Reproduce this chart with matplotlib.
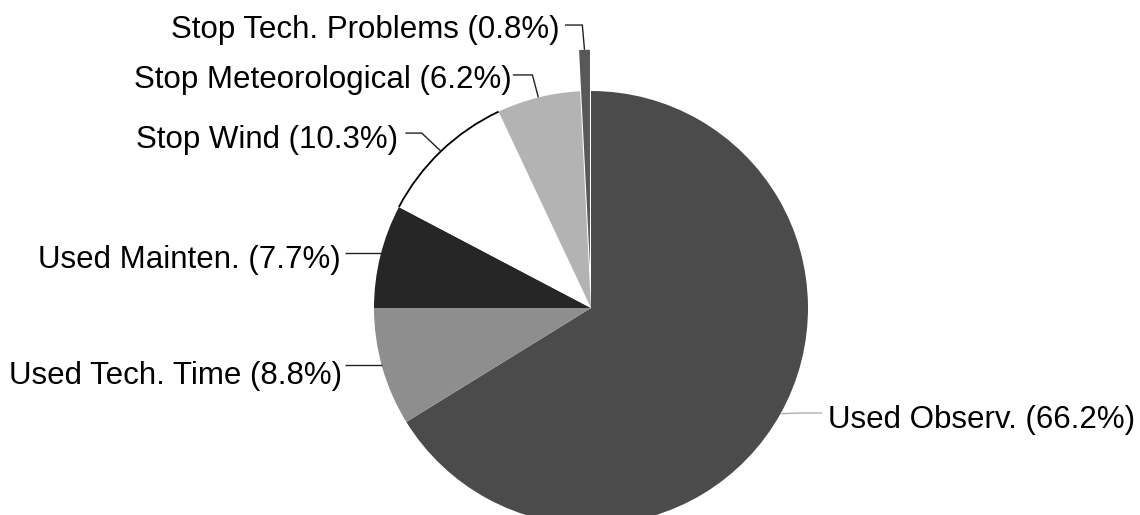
import numpy as np
import matplotlib
matplotlib.use("Agg")
import matplotlib.pyplot as plt

# ---- data ----
categories = ["Used Observ.", "Used Tech. Time", "Used Mainten.",
              "Stop Wind", "Stop Meteorological", "Stop Tech. Problems"]
shares = [66.2, 8.8, 7.7, 10.3, 6.2, 0.8]
colors = ["#4b4b4b", "#8e8e8e", "#262626", "#ffffff", "#b3b3b3", "#585858"]
explode = [0, 0, 0, 0, 0, 0.19]

# label layout (data units, pie radius = 1)
# elbow: bend of leader, end: leader end next to text, text: (x, baseline)
label_layout = {
    "Used Observ.":        dict(elbow=(0.96, -0.484), end=(1.065, -0.484), text=(1.092, -0.553), ha="left"),
    "Used Tech. Time":     dict(elbow=None, end=(-1.135, -0.263), text=(-1.147, -0.350), ha="right"),
    "Used Mainten.":       dict(elbow=None, end=(-1.135, 0.253), text=(-1.152, 0.184), ha="right"),
    "Stop Wind":           dict(elbow=(-0.78, 0.806), end=(-0.855, 0.806), text=(-0.889, 0.737), ha="right"),
    "Stop Meteorological": dict(elbow=(-0.27, 1.074), end=(-0.36, 1.074), text=(-0.366, 1.014), ha="right"),
    "Stop Tech. Problems": dict(elbow=(-0.04, 1.304), end=(-0.12, 1.304), text=(-0.143, 1.244), ha="right"),
}

W, H, DPI = 11.4, 5.15, 100
fig = plt.figure(figsize=(W, H), dpi=DPI)
ax = fig.add_axes([0, 0, 1, 1])
R_PX = 217.0
cx, cy = 591.0, 308.0

wedges, _ = ax.pie(shares, colors=colors, explode=explode, startangle=90,
                   counterclock=False, radius=1.0, center=(0, 0),
                   wedgeprops=dict(linewidth=0), frame=True)
ax.set_xlim(-cx / R_PX, (W * DPI - cx) / R_PX)
ax.set_ylim(-(H * DPI - cy) / R_PX, cy / R_PX)
ax.set_aspect("auto")
ax.axis("off")

# dark rim along the stop-wind arc
w = wedges[3]
ax.add_patch(matplotlib.patches.Arc((0, 0), 2, 2, theta1=w.theta1, theta2=w.theta2,
                                    color="black", lw=1.3))

font = dict(family=["Liberation Sans", "DejaVu Sans"], fontsize=22.5)
for wd, cat, val, ex in zip(wedges, categories, shares, explode):
    ang = np.deg2rad((wd.theta1 + wd.theta2) / 2)
    r = 1.0 + ex
    ax_, ay_ = r * np.cos(ang), r * np.sin(ang)
    lay = label_layout[cat]
    if lay["elbow"] is None:
        ly = lay["end"][1]
        xs = [-np.sqrt(1 - ly ** 2), lay["end"][0]]
        ys = [ly, ly]
    else:
        xs = [ax_, lay["elbow"][0], lay["end"][0]]
        ys = [ay_, lay["elbow"][1], lay["end"][1]]
    lc = "#b0b0b0" if cat == "Used Observ." else "#222222"
    ax.plot(xs, ys, color=lc, lw=1.0, solid_capstyle="butt")
    ax.text(lay["text"][0], lay["text"][1], f"{cat} ({val:.1f}%)", ha=lay["ha"],
            va="baseline", color="black", **font)

fig.savefig("out.png", dpi=DPI)
